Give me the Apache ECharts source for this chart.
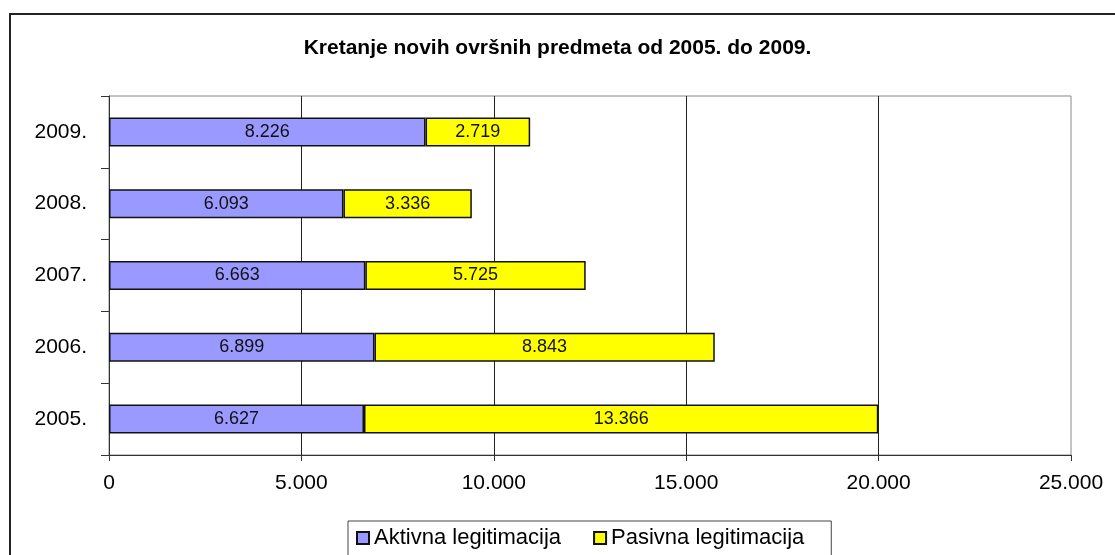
<!DOCTYPE html>
<html>
<head>
<meta charset="utf-8">
<script src="https://cdn.jsdelivr.net/npm/echarts@6/dist/echarts.min.js"></script>
<style>
  html, body { margin: 0; padding: 0; background: #fff; }
  #chart { width: 1115px; height: 555px; }
</style>
</head>
<body>
<div id="chart"></div>
<script>
// podaci
var years = ['2005.', '2006.', '2007.', '2008.', '2009.'];
var aktivna = [6627, 6899, 6663, 6093, 8226];
var pasivna = [13366, 8843, 5725, 3336, 2719];
var seriesNames = ['Aktivna legitimacija', 'Pasivna legitimacija'];
var titleText = 'Kretanje novih ovršnih predmeta od 2005. do 2009.';

var FONT = '"Liberation Sans", Arial, sans-serif';

function fmt(v) {
  return String(v).replace(/\B(?=(\d{3})+(?!\d))/g, '.');
}

var chart = echarts.init(document.getElementById('chart'), null, { renderer: 'canvas' });

var option = {
  backgroundColor: '#fff',
  animation: false,
  textStyle: { fontFamily: FONT },
  title: {
    text: titleText,
    left: 'center',
    top: 33,
    textStyle: { fontSize: 21, fontWeight: 'bold', color: '#000', fontFamily: FONT }
  },
  graphic: [{
    type: 'rect',
    shape: { x: 10, y: 14, width: 1200, height: 600 },
    style: { fill: 'none', stroke: '#222', lineWidth: 2 },
    silent: true
  }],
  legend: {
    data: seriesNames,
    left: 348,
    top: 521,
    orient: 'horizontal',
    padding: [6, 27, 20, 8],
    itemGap: 32,
    itemWidth: 12,
    itemHeight: 12,
    borderColor: '#444',
    borderWidth: 1,
    icon: 'rect',
    textStyle: { fontSize: 22, color: '#000', fontFamily: FONT }
  },
  grid: {
    left: 109,
    top: 96,
    right: 44,
    bottom: 100,
    show: true,
    borderColor: '#888',
    borderWidth: 1,
    containLabel: false
  },
  xAxis: {
    type: 'value',
    min: 0,
    max: 25000,
    interval: 5000,
    axisLine: { show: true, lineStyle: { color: '#333', width: 1 } },
    axisTick: { show: true, length: 6, lineStyle: { color: '#333' } },
    axisLabel: {
      margin: 18,
      fontSize: 21,
      color: '#000',
      fontFamily: FONT,
      formatter: function (v) { return fmt(v); }
    },
    splitLine: { show: true, showMaxLine: false, lineStyle: { color: '#222', width: 1 } }
  },
  yAxis: {
    type: 'category',
    data: years,
    axisLine: { show: true, lineStyle: { color: '#333', width: 1 } },
    axisTick: { show: true, length: 8, alignWithLabel: false, lineStyle: { color: '#333' } },
    axisLabel: { margin: 22, fontSize: 21, color: '#000', fontFamily: FONT },
    splitLine: { show: false }
  },
  series: [{
    name: seriesNames[0],
    type: 'bar',
    stack: 'ukupno',
    data: aktivna,
    barWidth: 29,
    itemStyle: { color: '#9999FF', borderColor: '#111', borderWidth: 1.5 },
    label: {
      show: true,
      position: 'inside',
      color: '#111',
      fontSize: 18,
      fontFamily: FONT,
      formatter: function (p) { return fmt(p.value); }
    }
  }, {
    name: seriesNames[1],
    type: 'bar',
    stack: 'ukupno',
    data: pasivna,
    barWidth: 29,
    itemStyle: { color: '#FFFF00', borderColor: '#111', borderWidth: 1.5 },
    label: {
      show: true,
      position: 'inside',
      color: '#111',
      fontSize: 18,
      fontFamily: FONT,
      formatter: function (p) { return fmt(p.value); }
    }
  }]
};

chart.setOption(option);
</script>
</body>
</html>
